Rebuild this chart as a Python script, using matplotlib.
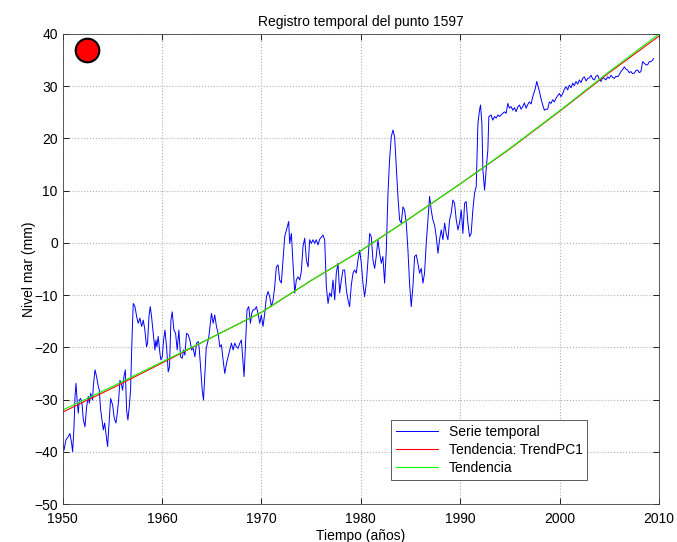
import matplotlib
matplotlib.use('Agg')
import matplotlib.pyplot as plt

plt.rcParams['font.family'] = ['Liberation Sans', 'DejaVu Sans']

# Sea level series (year, mm)
serie_years = [
    1950.0, 1950.13, 1950.33, 1950.57, 1950.73, 1950.9, 1951.0, 1951.14, 1951.24, 1951.34,
    1951.47, 1951.57, 1951.67, 1951.81, 1951.94, 1952.08, 1952.24, 1952.41, 1952.58, 1952.68,
    1952.81, 1953.01, 1953.08, 1953.25, 1953.41, 1953.58, 1953.68, 1953.82, 1953.95, 1954.09,
    1954.22, 1954.35, 1954.52, 1954.69, 1954.82, 1955.02, 1955.19, 1955.36, 1955.49, 1955.63,
    1955.76, 1955.89, 1956.03, 1956.16, 1956.3, 1956.43, 1956.56, 1956.7, 1956.83, 1956.97,
    1957.1, 1957.27, 1957.44, 1957.6, 1957.77, 1957.94, 1958.11, 1958.27, 1958.44, 1958.54,
    1958.68, 1958.81, 1958.94, 1959.11, 1959.28, 1959.38, 1959.48, 1959.61, 1959.78, 1959.88,
    1960.02, 1960.15, 1960.29, 1960.45, 1960.62, 1960.75, 1960.89, 1961.02, 1961.19, 1961.36,
    1961.52, 1961.69, 1961.86, 1962.03, 1962.16, 1962.3, 1962.46, 1962.63, 1962.8, 1962.97,
    1963.13, 1963.3, 1963.47, 1963.64, 1963.74, 1963.87, 1964.04, 1964.17, 1964.31, 1964.44,
    1964.57, 1964.71, 1964.97, 1965.14, 1965.3, 1965.47, 1965.64, 1965.81, 1965.97, 1966.14,
    1966.31, 1966.48, 1966.64, 1966.81, 1966.98, 1967.15, 1967.31, 1967.48, 1967.65, 1967.82,
    1967.98, 1968.15, 1968.25, 1968.42, 1968.55, 1968.72, 1968.89, 1969.02, 1969.16, 1969.32,
    1969.49, 1969.66, 1969.83, 1969.99, 1970.16, 1970.33, 1970.5, 1970.66, 1970.83, 1971.0,
    1971.17, 1971.33, 1971.5, 1971.67, 1971.83, 1972.0, 1972.17, 1972.34, 1972.74, 1972.84,
    1973.01, 1973.18, 1973.35, 1973.51, 1973.68, 1973.85, 1974.01, 1974.18, 1974.35, 1974.52,
    1974.69, 1974.85, 1975.02, 1975.19, 1975.36, 1975.52, 1975.69, 1975.86, 1976.19, 1976.36,
    1976.53, 1976.7, 1976.86, 1977.03, 1977.2, 1977.37, 1977.53, 1977.7, 1977.87, 1978.04,
    1978.2, 1978.37, 1978.54, 1978.71, 1978.87, 1979.04, 1979.21, 1979.37, 1979.54, 1979.71,
    1979.88, 1980.05, 1980.21, 1980.38, 1980.55, 1980.72, 1980.89, 1981.05, 1981.22, 1981.39,
    1981.55, 1981.72, 1981.89, 1982.06, 1982.22, 1982.39, 1982.56, 1982.73, 1982.89, 1983.06,
    1983.23, 1983.4, 1983.57, 1983.73, 1983.9, 1984.07, 1984.24, 1984.4, 1984.57, 1984.74,
    1984.9, 1985.07, 1985.24, 1985.41, 1985.58, 1985.74, 1985.91, 1986.08, 1986.25, 1986.41,
    1986.58, 1986.75, 1986.92, 1987.08, 1987.25, 1987.42, 1987.59, 1987.76, 1987.92, 1988.09,
    1988.26, 1988.43, 1988.59, 1988.76, 1988.93, 1989.09, 1989.26, 1989.43, 1989.6, 1989.77,
    1989.93, 1990.1, 1990.27, 1990.44, 1990.6, 1990.77, 1990.94, 1991.1, 1991.27, 1991.44,
    1991.61, 1991.78, 1991.94, 1992.04, 1992.18, 1992.28, 1992.45, 1992.61, 1992.78, 1992.88,
    1993.11, 1993.28, 1993.45, 1993.62, 1993.79, 1993.95, 1994.12, 1994.29, 1994.45, 1994.62,
    1994.79, 1994.95, 1995.12, 1995.29, 1995.46, 1995.62, 1995.79, 1995.96, 1996.12, 1996.29,
    1996.46, 1996.63, 1996.8, 1996.96, 1997.13, 1997.3, 1997.56, 1997.7, 1997.97, 1998.13,
    1998.3, 1998.47, 1998.63, 1998.8, 1998.97, 1999.13, 1999.3, 1999.47, 1999.64, 1999.81,
    1999.98, 2000.14, 2000.31, 2000.48, 2000.65, 2000.81, 2000.98, 2001.15, 2001.32, 2001.48,
    2001.65, 2001.82, 2001.99, 2002.15, 2002.32, 2002.49, 2002.66, 2002.83, 2003.0, 2003.16,
    2003.33, 2003.5, 2003.66, 2003.83, 2004.0, 2004.16, 2004.33, 2004.5, 2004.66, 2004.83,
    2005.0, 2005.17, 2005.33, 2005.5, 2005.67, 2005.84, 2006.0, 2006.17, 2006.34, 2006.51,
    2006.67, 2006.84, 2007.01, 2007.18, 2007.34, 2007.51, 2007.68, 2007.85, 2008.01, 2008.18,
    2008.35, 2008.52, 2008.69, 2008.85, 2009.02, 2009.19, 2009.36, 2009.46,
]
serie_mm = [
    -38.4, -39.7, -37.7, -37.1, -36.5, -38.4, -40.0, -35.2, -29.4, -26.9,
    -30.7, -32.6, -30.1, -29.8, -30.7, -33.9, -35.2, -31.4, -29.4, -30.7,
    -28.8, -30.1, -27.5, -24.3, -25.6, -27.5, -28.2, -32.0, -33.9, -35.8,
    -34.5, -36.5, -39.0, -33.9, -29.8, -31.0, -33.6, -34.5, -32.6, -30.1,
    -26.3, -26.9, -28.2, -25.6, -24.3, -32.0, -33.9, -31.4, -28.2, -18.6,
    -11.6, -12.2, -14.1, -15.4, -14.4, -16.0, -14.8, -16.7, -19.9, -19.2,
    -14.1, -12.2, -14.1, -17.3, -20.5, -18.6, -19.9, -17.9, -21.1, -22.4,
    -21.8, -18.6, -16.7, -19.9, -24.7, -23.7, -14.8, -13.2, -16.7, -17.3,
    -20.5, -16.7, -21.8, -22.1, -20.5, -21.5, -17.3, -17.6, -18.6, -20.5,
    -20.2, -21.8, -19.2, -18.9, -20.2, -23.7, -28.2, -30.1, -25.0, -20.2,
    -19.2, -17.9, -13.5, -15.4, -13.8, -16.0, -17.3, -19.9, -19.5, -22.4,
    -25.0, -23.1, -21.8, -20.5, -19.2, -20.5, -19.2, -19.9, -20.2, -19.2,
    -18.6, -23.1, -25.6, -18.6, -12.8, -12.2, -15.4, -13.5, -12.8, -12.8,
    -12.2, -13.5, -15.4, -13.8, -16.0, -13.5, -10.3, -9.3, -10.3, -12.2,
    -11.0, -8.4, -4.6, -4.2, -7.1, -7.7, -3.3, 1.2, 4.1, -0.1,
    1.8, -4.2, -9.6, -7.1, -6.5, -7.1, -5.5, -0.7, 0.9, -3.3,
    -4.6, 0.6, -0.1, 0.6, -0.1, 0.6, -0.4, 0.7, 1.5, 0.6,
    -8.4, -11.6, -9.6, -10.3, -7.1, -10.9, -5.8, -3.9, -9.6, -7.1,
    -5.2, -5.2, -9.0, -10.9, -12.2, -8.1, -5.8, -5.2, -5.8, -3.3,
    -1.4, -3.9, -7.7, -10.3, -7.7, -3.3, 1.8, 1.2, -3.3, -4.9,
    -2.6, 0.6, -2.0, -3.9, -2.6, -7.7, -1.4, 9.5, 15.9, 20.3,
    21.6, 20.3, 14.6, 8.9, 4.4, 3.8, 6.9, 6.3, 3.8, -1.4,
    -7.7, -12.2, -8.4, -2.6, -2.3, -3.9, -5.8, -4.9, -7.7, -5.8,
    -0.1, 4.4, 8.9, 6.3, 4.4, 3.4, 1.2, -2.0, 0.6, 2.5,
    0.6, 3.8, 1.8, 0.6, 4.4, 5.7, 8.2, 7.6, 4.4, 2.5,
    3.8, 6.3, 1.8, 7.6, 7.9, 3.8, 1.2, 1.8, 6.3, 9.5,
    10.8, 22.9, 25.4, 26.4, 22.9, 14.0, 10.1, 14.0, 17.8, 24.2,
    24.5, 23.5, 24.2, 23.9, 24.5, 24.2, 24.5, 24.8, 25.1, 24.8,
    26.7, 25.8, 26.1, 25.4, 25.9, 25.1, 26.0, 26.4, 25.6, 26.1,
    26.8, 25.8, 26.5, 27.0, 26.6, 28.0, 29.6, 30.9, 29.0, 27.6,
    26.4, 25.4, 25.6, 25.6, 27.0, 26.7, 27.4, 27.0, 27.7, 28.2,
    28.6, 28.0, 28.6, 29.4, 29.9, 29.3, 30.2, 29.7, 30.6, 30.1,
    30.9, 30.4, 31.2, 30.7, 31.5, 31.8, 31.0, 31.5, 31.6, 32.1,
    31.4, 31.2, 31.9, 32.1, 31.3, 30.9, 31.6, 31.5, 31.2, 31.8,
    31.5, 32.1, 31.7, 31.5, 31.9, 31.8, 32.2, 32.8, 33.2, 33.7,
    33.3, 33.1, 32.6, 32.8, 32.4, 32.5, 33.0, 33.1, 32.6, 32.8,
    34.7, 34.4, 34.1, 34.1, 34.7, 34.7, 35.0, 35.3,
]

# Trend curves (every 5 years)
trend_years = [1950, 1955, 1960, 1965, 1970, 1975, 1980, 1985, 1990, 1995, 2000, 2005, 2010]
trend_pc1 = [-32.4, -27.8, -23.0, -18.1, -13.3, -7.2, -1.5, 4.8, 11.3, 18.0, 25.2, 32.6, 39.6]
trend_fit = [-32.0, -27.5, -22.8, -18.1, -13.3, -7.2, -1.5, 4.8, 11.3, 18.1, 25.3, 32.8, 40.0]

point_id = 1597
marker_year, marker_mm = 1952.4, 36.9

fig = plt.figure(figsize=(6.77, 5.42), dpi=100)
ax = fig.add_axes([0.0926, 0.0701, 0.8808, 0.8672])

ax.plot(serie_years, serie_mm, color='#0000ff', lw=0.7, label='Serie temporal')
ax.plot(trend_years, trend_pc1, color='#ff0000', lw=0.8, label='Tendencia: TrendPC1')
ax.plot(trend_years, trend_fit, color='#00ff00', lw=0.8, label='Tendencia')
ax.plot([marker_year], [marker_mm], 'o', ms=17, mfc='#ff0000', mec='black', mew=1.5)

ax.set_xlim(1950, 2010)
ax.set_ylim(-50, 40)
ax.set_xticks(range(1950, 2011, 10))
ax.set_yticks(range(-50, 41, 10))
ax.grid(True, linestyle=':', color='#b0b0b0', lw=0.8)
ax.tick_params(direction='in', top=True, right=True, labelsize=10, length=4, width=0.6)
ax.tick_params(axis='x', pad=6)
for s in ax.spines.values():
    s.set_linewidth(0.6)
    s.set_color('#404040')

ax.set_title('Registro temporal del punto %d' % point_id, fontsize=10)
ax.set_xlabel('Tiempo (años)', fontsize=10, labelpad=2)
ax.set_ylabel('Nivel mar (mm)', fontsize=10)
ax.yaxis.set_label_coords(-0.045, 0.5)

leg = ax.legend(loc='lower left', bbox_to_anchor=(0.539, 0.036), fontsize=10,
                fancybox=False, framealpha=1, edgecolor='#404040',
                handlelength=3.0, borderpad=0.35, labelspacing=0.3)
leg.get_frame().set_linewidth(0.6)

fig.savefig('out.png', dpi=100)
